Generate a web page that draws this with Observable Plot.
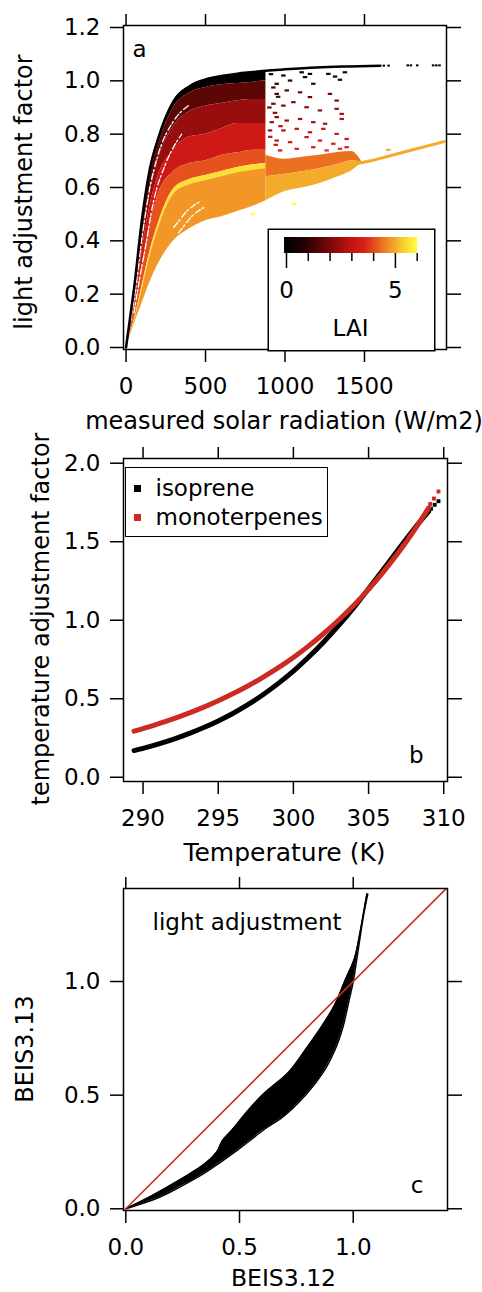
<!DOCTYPE html>
<html>
<head>
<meta charset="utf-8">
<script src="https://cdn.jsdelivr.net/npm/d3@7"></script>
<script src="https://cdn.jsdelivr.net/npm/@observablehq/plot@0.6"></script>
<style>
  html, body { margin: 0; padding: 0; background: #fff; }
  #figure { position: relative; width: 482px; height: 1292px; overflow: hidden; font-family: "DejaVu Sans", sans-serif; }
  #figure > * { position: absolute; }
  #legend-b { left: 125px; top: 467px; width: 203px; height: 70px; box-sizing: border-box; border: 1.5px solid #000; background: #fff; }
  #legend-b div { position: absolute; }
  #legend-b .sw { width: 7px; height: 7px; left: 8px; }
  #legend-b .lb { left: 29.5px; font-size: 23px; line-height: 23px; white-space: nowrap; }
  .ytitle { font-size: 24px; line-height: 23px; white-space: nowrap; transform: translate(-50%, -50%) rotate(-90deg); transform-origin: center; }
</style>
</head>
<body>
<div id="figure"></div>
<script>
// ---------- colour scale for leaf area index (LAI) ----------
const LAI_STOPS  = [0, 1, 2, 3, 3.6, 4.5, 5.4, 6];
const LAI_COLORS = ["#000000", "#2e0202", "#7a0808", "#c41414", "#d82018", "#ef7a22", "#f8d030", "#ffff3a"];
const LAI_TICKS = [0, 1, 2, 3, 4, 5, 6];
const LAI_LABELED = [0, 5];

// ---------- panel a: light adjustment factor vs measured solar radiation ----------
const A_X_TICKS = [0, 500, 1000, 1500];
const A_Y_TICKS = [0, 0.2, 0.4, 0.6, 0.8, 1.0, 1.2];

// dense part of the cloud: boundary curves between LAI classes
const SOLAR_X   = [0, 25, 50, 100, 150, 200, 300, 400, 500, 600, 700, 800, 880];
const EDGE_LAI0 = [0, 0.11, 0.22, 0.48, 0.67, 0.78, 0.925, 0.98, 1.005, 1.018, 1.027, 1.033, 1.038];
const EDGE_1    = [0, 0.095, 0.20, 0.455, 0.645, 0.755, 0.90, 0.955, 0.975, 0.985, 0.99, 0.995, 1.0];
const EDGE_2    = [0, 0.08, 0.16, 0.40, 0.58, 0.70, 0.83, 0.885, 0.905, 0.915, 0.925, 0.93, 0.93];
const EDGE_3    = [0, 0.07, 0.14, 0.36, 0.53, 0.64, 0.74, 0.79, 0.80, 0.82, 0.84, 0.84, 0.84];
const EDGE_4    = [0, 0.06, 0.12, 0.30, 0.46, 0.57, 0.66, 0.69, 0.70, 0.72, 0.73, 0.74, 0.74];
const EDGE_5    = [0, 0.05, 0.10, 0.23, 0.36, 0.46, 0.595, 0.63, 0.645, 0.66, 0.675, 0.685, 0.69];
const EDGE_6    = [0, 0.046, 0.093, 0.213, 0.34, 0.44, 0.575, 0.61, 0.625, 0.64, 0.655, 0.665, 0.67];
const EDGE_LOW  = [0, 0.04, 0.085, 0.165, 0.245, 0.31, 0.40, 0.445, 0.475, 0.49, 0.51, 0.53, 0.55];
const BAND_LAI  = [0.1, 1.6, 2.4, 3.3, 4.1, 5.6, 4.8];

// orange tail of high-LAI points beyond 880 W/m2
const TAIL_X   = [880, 1000, 1120, 1230, 1330, 1420, 1480];
const TAIL_TOP = [0.72, 0.706, 0.714, 0.722, 0.731, 0.735, 0.70];
const TAIL_MID = [0.64, 0.65, 0.66, 0.672, 0.686, 0.70, 0.695];
const TAIL_LOW = [0.55, 0.585, 0.60, 0.617, 0.639, 0.663, 0.69];
const TAIL_LAI = [4.4, 5.0];

// LAI = 0 curve continuing at high radiation, and its sparse end points
const TOPLINE_X = [880, 1000, 1200, 1400, 1600];
const TOPLINE_Y = [1.038, 1.043, 1.05, 1.054, 1.057];
const TOPDOT_X  = [1625, 1655, 1775, 1795, 1835, 1935, 1955, 1975];
const TOPDOT_Y  = [1.057, 1.057, 1.058, 1.058, 1.058, 1.058, 1.058, 1.058];

// single high-LAI site reaching the highest radiation
const YELLOW_X = [1470, 1540, 1750, 2000];
const YELLOW_Y = [0.692, 0.70, 0.733, 0.772];

// gaps without points inside the dense cloud
const GAP1_X = [30, 60, 100, 150, 200, 300, 400];
const GAP1_Y = [0.10, 0.22, 0.41, 0.60, 0.72, 0.85, 0.91];
const GAP2_X = [50, 80, 120, 170, 250, 350];
const GAP2_Y = [0.13, 0.24, 0.37, 0.54, 0.69, 0.80];
const GAP3_X = [300, 340, 380, 420, 460];
const GAP3_Y = [0.45, 0.48, 0.51, 0.53, 0.545];
const GAP4_X = [330, 370, 410, 450, 490];
const GAP4_Y = [0.43, 0.46, 0.49, 0.51, 0.525];

// scattered points between 880 and 1400 W/m2
const SPECK_X = [951, 993, 1035, 1108, 1129, 1160, 1181, 1276, 1318, 1380, 1349,
  951, 1014, 1098, 1160, 1286, 1328, 930, 993, 1056, 1139, 1223, 1328, 1360,
  951, 1014, 1098, 1181, 1255, 1360, 909, 993, 1077, 1160, 1244, 1328, 1391,
  951, 1035, 1139, 1223, 1307, 1391, 972, 1077, 1181, 1265, 1349, 1653, 1060, 800,
  915, 930, 960, 905, 940, 920, 975, 910, 945];
const SPECK_Y = [0.989, 1.02, 1.001, 1.032, 1.014, 1.026, 0.989, 1.026, 1.016, 1.032, 1.004,
  0.951, 0.964, 0.957, 0.939, 0.951, 0.926, 0.914, 0.907, 0.92, 0.901, 0.889, 0.895, 0.876,
  0.864, 0.851, 0.857, 0.845, 0.839, 0.857, 0.814, 0.814, 0.82, 0.807, 0.82, 0.801, 0.782,
  0.776, 0.77, 0.789, 0.776, 0.764, 0.751, 0.739, 0.745, 0.751, 0.739, 0.745, 0.741, 0.539, 0.50,
  1.025, 0.975, 0.94, 0.90, 0.88, 0.845, 0.83, 0.79, 0.76];
const SPECK_LAI = [1.0, 0.5, 1.0, 0.3, 0.8, 0.3, 1.0, 0.5, 0.8, 0.5, 1.0,
  1.5, 1.5, 1.8, 1.8, 2.0, 2.2, 1.8, 2.0, 2.0, 2.2, 2.4, 2.4, 2.6,
  2.2, 2.4, 2.6, 2.6, 2.8, 2.8, 2.6, 2.8, 3.0, 3.0, 3.0, 3.2, 3.2,
  3.0, 3.2, 3.2, 3.4, 3.5, 3.6, 3.4, 3.6, 3.6, 3.8, 3.8, 5.0, 6.0, 6.0,
  0.5, 1.2, 1.6, 2.0, 2.2, 2.6, 2.8, 3.0, 3.3];

// ---------- panel b: temperature adjustment factor ----------
const B_X_TICKS = [290, 295, 300, 305, 310];
const B_Y_TICKS = [0, 0.5, 1.0, 1.5, 2.0];
const TEMP_K = [289.4, 290, 291, 292, 293, 294, 295, 296, 297, 298, 299, 300, 301, 302, 303, 304, 305, 306, 307, 308, 309];
const ISOPRENE = [0.170, 0.184, 0.211, 0.241, 0.276, 0.315, 0.359, 0.408, 0.464, 0.527, 0.598, 0.676, 0.764, 0.860, 0.965, 1.079, 1.200, 1.326, 1.453, 1.578, 1.693];
const MONOTERPENES = [0.294, 0.310, 0.340, 0.372, 0.407, 0.445, 0.487, 0.533, 0.583, 0.638, 0.698, 0.763, 0.835, 0.914, 1.0, 1.094, 1.197, 1.310, 1.433, 1.568, 1.716];
const ISO_TAIL_T = [309.15, 309.4, 309.65];
const ISO_TAIL_V = [1.71, 1.735, 1.758];
const MONO_TAIL_T = [309.1, 309.35, 309.65];
const MONO_TAIL_V = [1.74, 1.775, 1.82];

// ---------- panel c: BEIS3.13 vs BEIS3.12 light adjustment ----------
const C_TICKS = [0, 0.5, 1.0];
const C_Y     = [0, 0.05, 0.1, 0.15, 0.2, 0.25, 0.3, 0.35, 0.4, 0.5, 0.6, 0.7, 0.8, 0.9, 1.0, 1.1, 1.2, 1.3, 1.385];
const C_LEFT  = [0, 0.10, 0.19, 0.275, 0.35, 0.40, 0.425, 0.47, 0.51, 0.60, 0.715, 0.79, 0.86, 0.92, 0.962, 1.005, 1.027, 1.045, 1.06];
const C_RIGHT = [0, 0.145, 0.245, 0.335, 0.41, 0.48, 0.545, 0.61, 0.685, 0.79, 0.868, 0.92, 0.955, 0.978, 1.0, 1.016, 1.031, 1.047, 1.064];
const ONE_TO_ONE = [0, 1.42];

const RED = "#cc2a22";
const FONT = "DejaVu Sans";
const baseStyle = {fontFamily: FONT, fontSize: "23px", background: "transparent", color: "#000", overflow: "visible"};
const fig = document.getElementById("figure");

function boxAxes(xTicks, yTicks, xFormat, yFormat) {
  const common = {strokeWidth: 1.5, label: null};
  return [
    Plot.frame({strokeWidth: 1.5}),
    Plot.axisX({anchor: "bottom", ticks: xTicks, tickFormat: xFormat, tickSize: 13, tickPadding: 15, ...common}),
    Plot.axisX({anchor: "top", ticks: xTicks, tickFormat: () => "", tickSize: 12, ...common}),
    Plot.axisY({anchor: "left", ticks: yTicks, tickFormat: yFormat, tickSize: 13, tickPadding: 10, ...common}),
    Plot.axisY({anchor: "right", ticks: yTicks, tickFormat: () => "", tickSize: 14, ...common})
  ];
}

function place(node, left, top) {
  node.style.position = "absolute";
  node.style.left = left + "px";
  node.style.top = top + "px";
  fig.appendChild(node);
  return node;
}

// vertical axis titles, read bottom to top, centred on (cx, cy)
function yTitle(text, cx, cy) {
  const d = document.createElement("div");
  d.className = "ytitle";
  d.textContent = text;
  d.style.left = cx + "px";
  d.style.top = cy + "px";
  fig.appendChild(d);
}

// ---------- build panel a ----------
const edges = [EDGE_LAI0, EDGE_1, EDGE_2, EDGE_3, EDGE_4, EDGE_5, EDGE_6, EDGE_LOW];
const bands = [];
BAND_LAI.forEach((lai, i) => {
  SOLAR_X.forEach((x, j) => bands.push({band: i, lai, x, y1: edges[i + 1][j], y2: edges[i][j]}));
});
const tailEdges = [TAIL_TOP, TAIL_MID, TAIL_LOW];
TAIL_LAI.forEach((lai, i) => {
  TAIL_X.forEach((x, j) => bands.push({band: 10 + i, lai, x, y1: tailEdges[i + 1][j], y2: tailEdges[i][j]}));
});
const topLine = SOLAR_X.map((x, j) => ({x, y: EDGE_LAI0[j]}))
  .concat(TOPLINE_X.map((x, j) => ({x, y: TOPLINE_Y[j]})));
const topDots = TOPDOT_X.map((x, j) => ({x, y: TOPDOT_Y[j]}));
const yellowLine = YELLOW_X.map((x, j) => ({x, y: YELLOW_Y[j]}));
const specks = SPECK_X.map((x, j) => ({x, y: SPECK_Y[j], lai: SPECK_LAI[j]}));
const gaps = [[GAP1_X, GAP1_Y], [GAP2_X, GAP2_Y], [GAP3_X, GAP3_Y], [GAP4_X, GAP4_Y]]
  .flatMap(([xs, ys], g) => xs.map((x, j) => ({g, x, y: ys[j]})));

const plotA = Plot.plot({
  width: 482, height: 430,
  marginLeft: 123, marginRight: 36, marginTop: 25, marginBottom: 81,
  x: {domain: [-16, 2016]},
  y: {domain: [-0.0075, 1.2075]},
  color: {type: "linear", domain: LAI_STOPS, range: LAI_COLORS},
  style: baseStyle,
  marks: [
    Plot.areaY(bands, {x: "x", y1: "y1", y2: "y2", z: "band", fill: "lai", curve: "monotone-x", clip: true}),
    Plot.line(gaps, {x: "x", y: "y", z: "g", stroke: "#fff", strokeWidth: 1.3, strokeDasharray: "6,2,2,3", curve: "monotone-x"}),
    Plot.ruleY(specks, {y: "y", x1: (d) => d.x - 14, x2: (d) => d.x + 14, stroke: "lai", strokeWidth: 2.2}),
    Plot.line(topLine, {x: "x", y: "y", stroke: "#000", strokeWidth: 2.5, curve: "monotone-x"}),
    Plot.ruleY(topDots, {y: "y", x1: (d) => d.x - 8, x2: (d) => d.x + 8, stroke: "#000", strokeWidth: 2}),
    Plot.line(yellowLine, {x: "x", y: "y", stroke: () => 5.0, strokeWidth: 3, clip: true}),
    ...boxAxes(A_X_TICKS, A_Y_TICKS, d3.format("d"), d3.format(".1f")),
    Plot.text(["a"], {text: (d) => d, frameAnchor: "top-left", dx: 9, dy: 31.7, textAnchor: "start", lineAnchor: "bottom"}),
    Plot.text(["measured solar radiation (W/m2)"], {text: (d) => d, frameAnchor: "bottom", dx: -1, dy: 72, lineAnchor: "middle", fontSize: 24})
  ]
});
place(plotA, 0, 0);
yTitle("light adjustment factor", 24, 192);

// LAI colour bar, boxed inside the lower right of panel a
const colorbar = Plot.plot({
  width: 168, height: 123,
  marginLeft: 0, marginRight: 0, marginTop: 0, marginBottom: 0,
  x: {domain: [-0.872, 6.84], axis: null},
  y: {domain: [123, 0], axis: null},
  style: baseStyle,
  marks: [
    Plot.frame({fill: "#fff", stroke: "#000", strokeWidth: 1.5, inset: 0.75}),
    Plot.rect([LAI_TICKS[0]], {x1: -0.09, x2: 6.02, y1: 9, y2: 25, fill: "url(#lai-ramp)"}),
    Plot.ruleX(LAI_TICKS.filter((t) => !LAI_LABELED.includes(t)), {x: (d) => d, y1: 25, y2: 33, strokeWidth: 1.5}),
    Plot.ruleX(LAI_LABELED, {x: (d) => d, y1: 25, y2: 40, strokeWidth: 1.5}),
    Plot.text(LAI_LABELED, {x: (d) => d, y: 62, text: (d) => String(d), lineAnchor: "middle"}),
    Plot.text(["LAI"], {x: 2.94, y: 100, text: (d) => d, lineAnchor: "middle"})
  ]
});
{
  const ns = "http://www.w3.org/2000/svg";
  const defs = document.createElementNS(ns, "defs");
  const grad = document.createElementNS(ns, "linearGradient");
  grad.setAttribute("id", "lai-ramp");
  LAI_STOPS.forEach((v, i) => {
    const s = document.createElementNS(ns, "stop");
    s.setAttribute("offset", ((v + 0.09) / 6.11).toFixed(4));
    s.setAttribute("stop-color", LAI_COLORS[i]);
    grad.appendChild(s);
  });
  defs.appendChild(grad);
  colorbar.insertBefore(defs, colorbar.firstChild);
}
place(colorbar, 267, 228);

// ---------- build panel b ----------
const iso = TEMP_K.map((t, i) => ({t, v: ISOPRENE[i]}));
const mono = TEMP_K.map((t, i) => ({t, v: MONOTERPENES[i]}));
const isoTail = ISO_TAIL_T.map((t, i) => ({t, v: ISO_TAIL_V[i]}));
const monoTail = MONO_TAIL_T.map((t, i) => ({t, v: MONO_TAIL_V[i]}));

const plotB = Plot.plot({
  width: 482, height: 430,
  marginLeft: 123, marginRight: 35, marginTop: 28, marginBottom: 79,
  x: {domain: [288.7, 310.25]},
  y: {domain: [-0.027, 2.03]},
  style: baseStyle,
  marks: [
    Plot.line(iso, {x: "t", y: "v", stroke: "#000", strokeWidth: 5, curve: "natural"}),
    Plot.dot(isoTail, {x: "t", y: "v", fill: "#000", symbol: "square", r: 2.2}),
    Plot.line(mono, {x: "t", y: "v", stroke: RED, strokeWidth: 5, curve: "natural"}),
    Plot.dot(monoTail, {x: "t", y: "v", fill: RED, symbol: "square", r: 2.2}),
    ...boxAxes(B_X_TICKS, B_Y_TICKS, d3.format("d"), d3.format(".1f")),
    Plot.text(["b"], {text: (d) => d, frameAnchor: "bottom-right", dx: -24, dy: -19, lineAnchor: "bottom"}),
    Plot.text(["Temperature (K)"], {text: (d) => d, frameAnchor: "bottom", dx: -1, dy: 71, lineAnchor: "middle", fontSize: 25})
  ]
});
place(plotB, 0, 430);
yTitle("temperature adjustment factor", 41, 618.5);

// series legend for panel b
const legendB = document.createElement("div");
legendB.id = "legend-b";
[["isoprene", "#000", 9.1], ["monoterpenes", RED, 38]].forEach(([name, color, top]) => {
  const sw = document.createElement("div");
  sw.className = "sw";
  sw.style.background = color;
  sw.style.top = (top + 7.5) + "px";
  const lb = document.createElement("div");
  lb.className = "lb";
  lb.style.top = top + "px";
  lb.textContent = name;
  legendB.append(sw, lb);
});
fig.appendChild(legendB);

// ---------- build panel c ----------
const cloudC = C_Y.map((y, i) => ({y, left: C_LEFT[i], right: C_RIGHT[i]}));
const plotC = Plot.plot({
  width: 482, height: 432,
  marginLeft: 123, marginRight: 35, marginTop: 28, marginBottom: 82,
  x: {domain: [-0.0101, 1.4146]},
  y: {domain: [-0.0075, 1.4093]},
  style: baseStyle,
  marks: [
    Plot.areaX(cloudC, {y: "y", x1: "left", x2: "right", fill: "#000", curve: "monotone-y"}),
    Plot.line(cloudC, {x: "left", y: "y", stroke: "#000", strokeWidth: 1.5, curve: "monotone-y"}),
    Plot.line(cloudC, {x: "right", y: "y", stroke: "#000", strokeWidth: 1.5, curve: "monotone-y"}),
    Plot.line(ONE_TO_ONE.map((v) => ({v})), {x: "v", y: "v", stroke: RED, strokeWidth: 1.6, clip: true}),
    ...boxAxes(C_TICKS, C_TICKS, d3.format(".1f"), d3.format(".1f")),
    Plot.text(["light adjustment"], {text: (d) => d, frameAnchor: "top-left", dx: 29, dy: 41, textAnchor: "start", lineAnchor: "bottom"}),
    Plot.text(["c"], {text: (d) => d, frameAnchor: "bottom-right", dx: -24, dy: -18, lineAnchor: "bottom"}),
    Plot.text(["BEIS3.12"], {text: (d) => d, frameAnchor: "bottom", dx: -2, dy: 68, lineAnchor: "middle", fontSize: 23.5})
  ]
});
place(plotC, 0, 860);
yTitle("BEIS3.13", 25, 1049);
</script>
</body>
</html>
